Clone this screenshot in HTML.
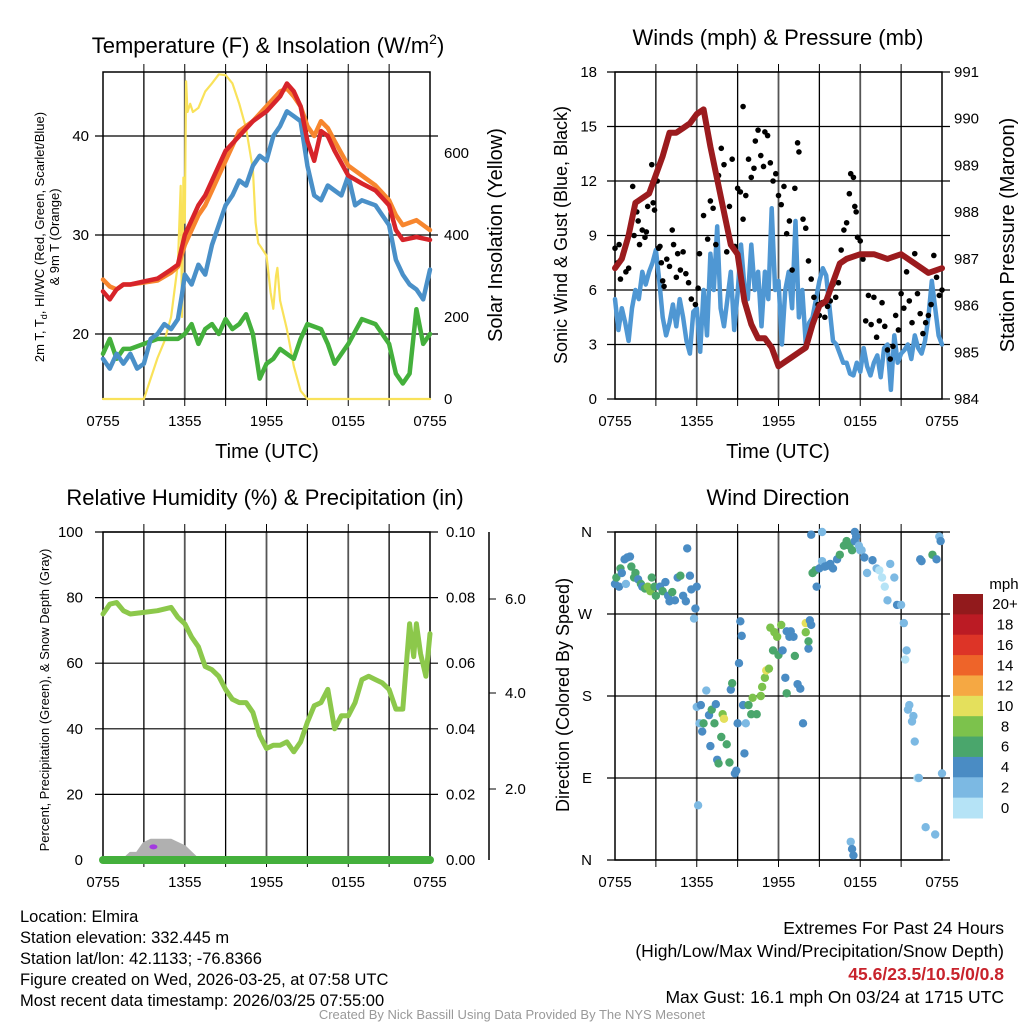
<!DOCTYPE html>
<html><head><meta charset="utf-8"><style>
body{margin:0;background:#fff;}
svg{display:block;font-family:"Liberation Sans",sans-serif;}
</style></head><body>
<svg id="c" width="1024" height="1024" xmlns="http://www.w3.org/2000/svg">
<text x="268" y="53" font-size="22" text-anchor="middle">Temperature (F) &amp; Insolation (W/m<tspan font-size="14" dy="-9">2</tspan><tspan dy="9">)</tspan></text>
<text x="778" y="45" font-size="22" text-anchor="middle">Winds (mph) &amp; Pressure (mb)</text>
<text x="265" y="505" font-size="22" text-anchor="middle">Relative Humidity (%) &amp; Precipitation (in)</text>
<text x="778" y="505" font-size="22" text-anchor="middle">Wind Direction</text>

<text transform="translate(44,237) rotate(-90)" font-size="13" text-anchor="middle">2m T, T<tspan font-size="9" dy="3">d</tspan><tspan dy="-3">, HI/WC (Red, Green, Scarlet/Blue)</tspan></text>
<text transform="translate(59,237) rotate(-90)" font-size="13" text-anchor="middle">&amp; 9m T (Orange)</text>
<text transform="translate(502,235) rotate(-90)" font-size="20" text-anchor="middle">Solar Insolation (Yellow)</text>
<text x="267" y="458" font-size="20" text-anchor="middle">Time (UTC)</text>
<text transform="translate(567,235) rotate(-90)" font-size="18" text-anchor="middle">Sonic Wind &amp; Gust (Blue, Black)</text>
<text transform="translate(1014,235) rotate(-90)" font-size="20" text-anchor="middle">Station Pressure (Maroon)</text>
<text x="778" y="458" font-size="20" text-anchor="middle">Time (UTC)</text>
<text transform="translate(49,700) rotate(-90)" font-size="13" text-anchor="middle">Percent, Precipitation (Green), &amp; Snow Depth (Gray)</text>
<text transform="translate(569,695) rotate(-90)" font-size="18" text-anchor="middle">Direction (Colored By Speed)</text>
<text x="1004" y="589" font-size="15" text-anchor="middle">mph</text>

<g font-size="16.5">
<text x="20" y="922">Location: Elmira</text>
<text x="20" y="943">Station elevation: 332.445 m</text>
<text x="20" y="964">Station lat/lon: 42.1133; -76.8366</text>
<text x="20" y="985">Figure created on Wed, 2026-03-25, at 07:58 UTC</text>
<text x="20" y="1006">Most recent data timestamp: 2026/03/25 07:55:00</text>
</g>
<g font-size="17.5" text-anchor="end">
<text x="1004" y="934">Extremes For Past 24 Hours</text>
<text x="1004" y="957">(High/Low/Max Wind/Precipitation/Snow Depth)</text>
<text x="1004" y="980" fill="#c8232c" font-weight="bold">45.6/23.5/10.5/0/0.8</text>
<text x="1004" y="1003">Max Gust: 16.1 mph On 03/24 at 1715 UTC</text>
</g>
<text x="512" y="1019" font-size="13" fill="#999" text-anchor="middle">Created By Nick Bassill Using Data Provided By The NYS Mesonet</text>
</svg>
<script>
// ---- data ----
const xTickLabels = ["0755","1355","1955","0155","0755"];
// Panel 1 (hours since 0755)
const tempHours = [0,0.5,1,1.5,2,3,4,5,5.5,6,6.5,7,7.5,8,8.5,9,10,11,12,13,13.5,14,14.5,15,15.5,16,16.5,17,18,19,20,21,21.5,22,23,24];
const tempRed =   [24.3,23.5,24.5,25,25,25.3,25.6,26.5,27,30,31.5,33,34,35.5,37,38.5,40,41.5,42.5,44,45.3,44.5,43,39.5,37.5,40.5,40,38.5,36,35.2,34.5,33,30.5,29.5,29.8,29.5];
const temp9m =    [25.5,24.8,24.5,25,25,25.2,25.4,26.2,26.8,29,30.5,32,33,34.5,36,37.5,40.5,41.5,43,44.5,44.8,44,43,41,40,41.5,40.8,39.5,37,36,35,33.5,32,31,31.5,30.5];
const dewHours = [0,0.5,1,1.5,2,2.5,3,3.5,4,4.5,5,5.5,5.8,6,6.5,7,7.5,8,8.5,9,9.5,10,10.5,11,11.5,12,12.5,13,13.5,14,14.5,15,15.5,16,16.5,17,17.5,18,18.5,19,20,21,21.5,22,22.5,23,23.5,24];
const dewBlue =  [17.5,16.5,18,17,18,16.5,17,19.5,20,21,20.5,21.5,24,26,25,27,26,29,31,33,34,35.5,35,37,38,37.5,40,41,42.5,42,41.5,37,34,33.5,35,34.5,34,36,33,33.5,33,31,27.5,26,25,24.5,23.5,26.5];
const wcHours = [0,0.5,1,1.5,2,3,4,5,5.5,6,6.5,7,7.5,8,8.5,9,9.5,10,10.5,11,11.5,12,12.5,13,14,14.5,15,16,16.5,17,18,19,20,21,21.5,22,22.5,23,23.5,24];
const wcGreen = [18,19.5,17.5,18.5,18.5,19,19.5,19.5,19.5,20,21,19,20.5,21,20,21.5,20.5,21,22,20,15.5,17,17.5,18.5,17.5,19.5,21,20.5,19,17,19,21.5,21,19,16,15,16,22.5,19,20];
const solarHours = [0,3,3.5,4,4.5,5,5.5,5.7,5.8,5.9,6,6.1,6.2,6.4,6.6,7,7.5,8,8.5,9,9.5,10,10.5,11,11.2,11.4,11.6,11.8,12,12.3,12.5,12.7,12.8,13,13.5,14,14.5,15,24];
const solarWm2 = [0,0,50,100,140,200,330,520,200,540,430,775,700,720,700,710,750,770,792,790,770,720,660,560,430,380,370,360,350,260,220,300,320,240,170,80,20,0,0];
// Panel 2
const windHours = [0,0.25,0.5,0.75,1,1.25,1.5,1.75,2,2.25,2.5,2.75,3,3.25,3.5,3.75,4,4.25,4.5,4.75,5,5.25,5.5,5.75,6,6.25,6.5,6.75,7,7.25,7.5,7.75,8,8.25,8.5,8.75,9,9.25,9.5,9.75,10,10.25,10.5,10.75,11,11.25,11.5,11.75,12,12.25,12.5,12.75,13,13.25,13.5,13.75,14,14.25,14.5,14.75,15,15.25,15.5,15.75,16,16.25,16.5,16.75,17,17.25,17.5,17.75,18,18.25,18.5,18.75,19,19.25,19.5,19.75,20,20.25,20.5,20.75,21,21.25,21.5,21.75,22,22.25,22.5,22.75,23,23.25,23.5,23.75,24];
const windSpeed = [5.5,3.8,5,4.2,3.2,5,6,5.5,7,6.3,7,7.5,8.2,6.5,4.5,3.5,4.2,5.2,4,5.5,4.5,3.2,2.5,4.8,5,2.6,6,3.5,8,6,9.5,5,4,5.5,7,3.8,5.8,8.5,6.2,5.5,8.5,6,7,4,7,5.5,10.5,6,6.5,3,6,7,5,9.8,4.5,6,3,4.2,4.5,5.5,6.5,7.2,6.8,5,3.2,3,2.5,2,2,1.4,1.3,2,1.5,2.8,1.8,1.3,2,2.4,1.2,2.8,3,0.5,3.5,2,2.5,2.7,3,2.2,3.5,2.8,2.5,3.2,4.5,6.5,5,3.5,3];
const pressHours = [0,0.5,1,1.5,2,2.5,3,3.5,4,4.5,5,5.5,6,6.5,7,7.5,8,8.5,9,9.5,10,10.5,11,11.5,12,12.5,13,13.5,14,14.5,15,15.5,16,16.5,17,18,19,20,21,22,23,24];
const pressMb = [986.8,987.0,987.5,988.2,988.3,988.4,988.8,989.2,989.7,989.7,989.8,989.9,990.1,990.2,989.4,988.7,988.0,987.3,987.1,986.1,985.6,985.3,985.3,985.1,984.7,984.8,984.9,985.0,985.1,985.6,986.0,986.1,986.5,986.9,987.0,987.1,987.1,987.0,987.1,986.9,986.7,986.8];
const gustHours = [0,0.2,0.3,0.4,0.6,0.8,1,1.3,1.4,1.6,1.7,1.8,2,2.2,2.3,2.4,2.7,2.8,2.9,3.1,3.2,3.3,3.4,3.5,3.6,3.8,4,4.2,4.3,4.5,4.6,4.8,5,5.2,5.4,5.6,5.9,6.1,6.2,6.5,6.8,7,7.2,7.4,7.6,7.8,8,8.2,8.4,8.6,8.8,9,9.2,9.4,9.6,9.8,10,10.2,10.3,10.5,10.7,10.9,11,11.2,11.4,11.6,11.8,12,12.2,12.4,12.6,12.8,13,13.2,13.4,13.5,13.8,14,14.2,14.4,14.6,14.9,15,15.2,15.4,15.6,15.8,16,16.2,16.4,16.6,16.8,17,17.2,17.3,17.5,17.6,17.7,17.8,18,18.2,18.4,18.6,18.8,19,19.2,19.4,19.6,19.8,20,20.2,20.4,20.6,20.8,21,21.2,21.4,21.6,21.8,22,22.2,22.4,22.6,22.8,23,23.2,23.4,23.6,23.8,24,9.4];
const gustMph = [8.3,7.5,8.5,6.6,8,7,7.2,11.7,9,10.3,9.8,8.5,9.3,8.9,9.2,10.6,12.9,10.8,10.4,12,8.3,8.4,7.5,6.5,6.2,7.7,7.3,9.3,8.5,6.7,8,7.1,8.1,6.9,6.4,5.5,5.2,6.1,8,10.1,8.8,10.9,10.5,8.5,12.3,13.8,12.9,8.1,10.6,13.2,8.4,11.6,11.4,9.9,11.2,13.2,12.2,12.7,14.2,14.8,13.4,12.8,14.7,14.5,13,12,12.4,11.2,10.7,11.7,9.1,9.8,7.1,11.6,14.1,13.6,9.9,9.4,7.6,6.6,5.6,5.2,4.6,5.3,4.5,5.1,5.4,6.3,5.6,6.4,8.2,9.3,9.7,11.3,12.4,12.2,10.6,10.3,8.9,8.7,7.7,4.3,5.7,4.1,5.6,3.4,4.3,5.3,4,2.7,2.2,2.9,4.6,3.8,5.8,5,7,5.4,4.2,8,5.8,4.7,3.6,4.2,4.6,5.2,7.9,6.7,5.7,6,16.1];
// Panel 3
const rhHours = [0,0.5,1,1.5,2,3,4,5,5.5,6,6.5,7,7.5,8,8.5,9,9.5,10,10.5,11,11.5,12,12.5,13,13.5,14,14.5,15,15.5,16,16.5,17,17.5,18,18.5,19,19.5,20,20.5,21,21.5,22,22.5,22.8,23,23.3,23.7,24];
const rhPct = [75,78,78.5,76,75,75.5,76,77,74,72,68,65,59,58,56,52,49,48,48,45,38,34,35,35,36,33,36,42,47,48,52,40,44,44,48,55,56,55,54,52,46,46,72,62,72,63,56,69];
const snowHours = [1.5,2,2.5,3,3.5,4,4.5,5,5.5,6,6.5,7];
const snowPct = [0,2,2,5,6,6,6,6,5,4,2,0];
const precipHours = [0,24];
const precipIn = [0,0];
// Panel 4
const dirHours = [0,0.1,0.3,0.4,0.5,0.7,0.8,0.9,1.1,1.2,1.4,1.5,1.7,1.9,2,2.2,2.4,2.6,2.7,2.9,3,3.3,3.5,3.7,3.9,4,4.2,4.4,4.6,4.8,5,5.2,5.3,5.5,5.6,5.8,5.9,6,6.1,6,6.2,6.3,6.4,6.5,6.7,6.9,7,7.1,7.3,7.4,7.5,7.6,7.8,7.9,8,8.2,8.4,8.5,8.6,8.8,8.9,9,9.1,9.2,9.3,9.4,9.5,9.6,9.8,10,10.1,10.4,10.7,10.8,11,11.1,11.3,11.6,11.9,12,12.2,12.3,12.5,12.6,12.9,13.2,13.4,13.6,13.8,14,14,14.3,14.4,14.2,14.2,13.1,12.6,11.4,11.7,14.5,14.7,14.8,15,15.2,15.4,15.6,15.8,16,16.3,16.5,16.8,17,17.2,17.4,17.6,17.7,17.9,18,18.1,17.3,17.4,17.5,18.3,18.5,18.9,19.2,19.4,19.6,19.8,20,20.2,20.5,20.7,21,21.2,21.3,21.4,21.5,21.6,21.8,21.9,22,22.2,22.3,22.4,22.5,22.8,23.3,23.5,23.6,23.8,23.9,24,14.4,15.2,17.6,12.8];
const dirDeg = [303,310,300,320,315,330,303,332,333,322,310,315,308,303,300,298,300,295,310,300,290,300,295,305,290,284,294,285,310,312,290,284,342,312,297,265,276,300,60,168,150,170,141,150,186,159,125,165,150,171,110,106,135,160,155,127,107,187,194,95,98,150,216,262,246,170,117,150,170,160,178,160,180,190,200,208,210,230,245,225,258,230,200,183,251,224,193,188,150,250,260,263,258,232,240,245,251,255,250,315,318,300,320,328,322,323,325,320,330,335,345,350,345,340,350,355,345,340,340,20,12,5,332,315,329,320,318,310,300,285,325,310,280,280,260,220,230,165,170,152,158,130,90,90,330,328,36,335,28,330,355,350,95,357,360,360,245];
const dirSpeed = [4,6,4,6,4,4,2,4,4,6,6,6,4,6,4,6,8,8,6,6,6,4,6,4,4,4,6,4,4,6,4,4,4,4,4,2,4,4,2,2,2,4,4,6,2,4,4,6,6,4,4,6,6,8,10,6,6,4,6,4,4,4,4,4,4,4,4,2,6,6,8,6,8,8,8,10,8,6,8,6,8,4,4,6,4,6,4,4,4,8,10,4,4,4,6,4,4,8,8,6,6,4,4,2,4,4,4,4,4,6,6,6,6,6,4,4,2,2,2,2,4,4,4,2,4,2,1,1,1,2,2,2,4,2,2,1,2,2,2,2,2,2,1,2,4,4,2,6,2,4,2,4,2,4,2,4,4];
const cbLabels = ["20+","18","16","14","12","10","8","6","4","2","0"];
const cbColors = ["#921a1c","#bb1b24","#dd3427","#ee6429","#f5a843","#e4e05c","#7cc24c","#4aa66c","#4a8cc4","#7cb9e3","#b5e3f6"];

// ---- drawing ----
const NS="http://www.w3.org/2000/svg";
const svg=document.getElementById('c');
function mk(tag,attrs,parent){const e=document.createElementNS(NS,tag);for(const k in attrs)e.setAttribute(k,attrs[k]);(parent||svg).appendChild(e);return e;}
function lin(d0,d1,r0,r1){return v=>r0+(v-d0)/(d1-d0)*(r1-r0);}
function pathD(xs,ys,fx,fy){return xs.map((h,i)=>(i?'L':'M')+fx(h).toFixed(1)+','+fy(ys[i]).toFixed(1)).join('');}

function frame(L,T,R,B,hy,name){
  const g=mk('g',{});
  
  
  const fx=lin(0,24,L,R);
  for(let h=3;h<24;h+=3){const l=mk('line',{x1:fx(h),x2:fx(h),y1:T,y2:B,stroke:h%6?'#000':'#555','stroke-width':h%6?1.3:1.8},g);
    const tk=mk('line',{x1:fx(h),x2:fx(h),y1:T-8,y2:T,stroke:'#000'},g);
    const tb=mk('line',{x1:fx(h),x2:fx(h),y1:B,y2:B+7,stroke:'#000'},g);}
  hy.forEach(y=>{const l=mk('line',{x1:L-8,x2:R+8,y1:y,y2:y,stroke:'#000','stroke-width':1.2},g);});
  const r=mk('rect',{x:L,y:T,width:R-L,height:B-T,fill:'none',stroke:'#000','stroke-width':1.5},g);
  
  xTickLabels.forEach((t,i)=>{const tx=mk('text',{x:fx(i*6),y:B+27,'font-size':15,'text-anchor':'middle'},g);tx.textContent=t;});
  return fx;
}
function label(x,y,t,anchor,name){const e=mk('text',{x:x,y:y+5,'font-size':15,'text-anchor':anchor});e.textContent=t;}
function line(d,color,w,name){const p=mk('path',{d:d,fill:'none',stroke:color,'stroke-width':w,'stroke-linejoin':'round','stroke-linecap':'round'});}

// Panel 1
{const L=103,R=430,T=72,B=399;
 const fy=lin(20,40,334,136), fs=lin(0,600,399,153);
 const fx=frame(L,T,R,B,[fy(20),fy(30),fy(40)],'temp');
 [20,30,40].forEach(v=>label(L-14,fy(v),v,'end','temp-y-tick'));
 [0,200,400,600].forEach(v=>label(R+14,fs(v),v,'start','solar-y-tick'));
 line(pathD(solarHours,solarWm2,fx,fs),'#f9e25a',2.2,'solar-line');
 line(pathD(wcHours,wcGreen,fx,fy),'#44b03c',4.5,'windchill-line');
 line(pathD(dewHours,dewBlue,fx,fy),'#4a90c8',4.5,'dewpoint-line');
 line(pathD(tempHours,temp9m,fx,fy),'#f7862e',4.5,'temp-9m-line');
 line(pathD(tempHours,tempRed,fx,fy),'#d7242a',4.5,'temp-2m-line');
}
// Panel 2
{const L=615,R=942,T=72,B=399;
 const fy=lin(0,18,399,72), fp=lin(984,991,399,72);
 const fx=frame(L,T,R,B,[0,3,6,9,12,15,18].map(fy),'wind');
 [0,3,6,9,12,15,18].forEach(v=>label(L-18,fy(v),v,'end','wind-y-tick'));
 [984,985,986,987,988,989,990,991].forEach(v=>label(R+12,fp(v),v,'start','pressure-y-tick'));
 line(pathD(windHours,windSpeed,fx,fy),'#4f97d3',4.5,'wind-speed-line');
 gustHours.forEach((h,i)=>{const c=mk('circle',{cx:fx(h),cy:fy(gustMph[i]),r:2.8,fill:'#000'});
  
  });
 line(pathD(pressHours,pressMb,fx,fp),'#9b1b1e',6,'pressure-line');
}
// Panel 3
{const L=103,R=430,T=532,B=860;
 const fy=lin(0,100,860,532), fp=lin(0,0.1,860,532);
 const fx=frame(L,T,R,B,[20,40,60,80,100].map(fy),'rh');
 [0,20,40,60,80,100].forEach(v=>label(L-20,fy(v),v,'end','rh-y-tick'));
 [0,0.02,0.04,0.06,0.08,0.1].forEach(v=>label(R+16,fp(v),v.toFixed(2),'start','precip-y-tick'));
 const ax=mk('line',{x1:489,x2:489,y1:532,y2:860,stroke:'#000','stroke-width':1.5});
 
 [[2,789],[4,693],[6,599]].forEach(a=>{const t=mk('line',{x1:489,x2:496,y1:a[1],y2:a[1],stroke:'#000'});
   label(505,a[1],a[0].toFixed(1),'start','snow-y-tick');});
 const sd=pathD(snowHours,snowPct,fx,fy)+'Z';
 const s=mk('path',{d:sd,fill:'#b0b0b0',stroke:'#b0b0b0','stroke-width':3,'stroke-linejoin':'round'});
 
 const pu=mk('ellipse',{cx:fx(3.7),cy:fy(4),rx:4,ry:2.5,fill:'#a33be0'});
 
 line(pathD(rhHours,rhPct,fx,fy),'#8cc84b',5,'rh-line');
 line(pathD(precipHours,precipIn,fx,fp),'#44b03c',8,'precip-line');
}
// Panel 4
{const L=615,R=942,T=532,B=860;
 const fy=lin(0,360,860,532);
 const fx=frame(L,T,R,B,[0,90,180,270,360].map(fy),'wdir');
 ['N','E','S','W','N'].forEach((t,i)=>label(L-23,fy(i*90),t,'end','direction-tick'));
 dirHours.forEach((h,i)=>{const sp=dirSpeed[i];const bin=Math.min(10,Math.floor(sp/2));
  const c=mk('circle',{cx:fx(h),cy:fy(Math.min(dirDeg[i],360)),r:4.2,fill:cbColors[10-bin]});
  
  });
 const cbT=594,cbH=224/11;
 cbLabels.forEach((t,i)=>{const r=mk('rect',{x:953,y:cbT+i*cbH,width:30,height:cbH+0.5,fill:cbColors[i]});
  
  
  label(1005,cbT+(i+0.5)*cbH,t,'middle','colorbar-label');});
}
</script>
</body></html>
